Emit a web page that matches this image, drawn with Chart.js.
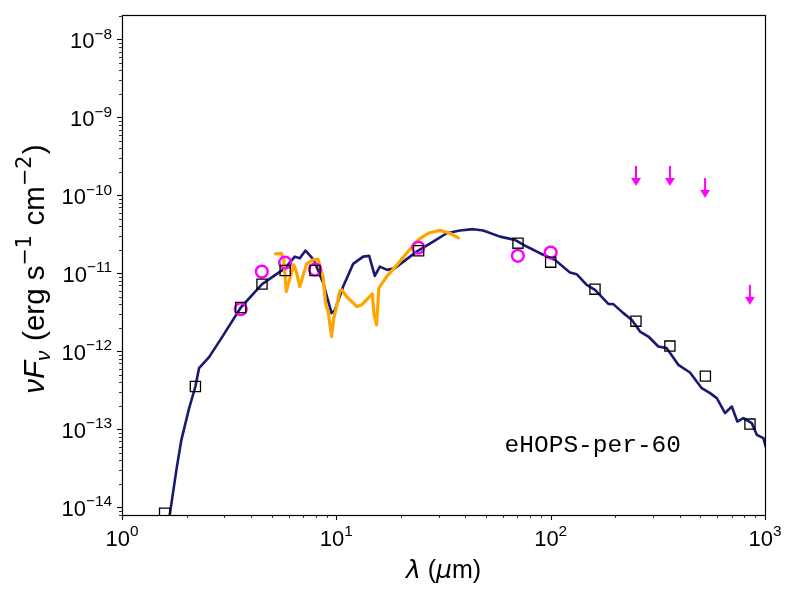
<!DOCTYPE html>
<html><head><meta charset="utf-8">
<script src="https://cdn.jsdelivr.net/npm/chart.js@4.4.1/dist/chart.umd.min.js"></script>
<style>html,body{margin:0;padding:0;background:#fff;}canvas{display:block;}</style>
</head><body>
<canvas id="c" width="800" height="600"></canvas>
<script>
// ---- data (wavelength in micron, nuFnu in erg/s/cm2) ----
const modelWave = [1.55,1.67,1.80,1.893,2.05,2.20,2.288,2.548,2.911,3.583,4.505,5.77,6.40,6.755,7.18,7.85,8.68,9.50,9.84,10.76,11.98,13.34,14.23,15.12,15.96,17.27,18.76,23.69,28.31,32.70,37.72,43.52,48.45,58.0,68.1,77.3,89.1,104.7,123.0,132.2,147.2,161.0,185.8,196.0,218.3,238.8,261.2,285.6,317.9,347.9,394.2,446.7,506.9,554.2,595.7,651.3,699.8,743.1,792.5,867.8,915.6,982.9,1011];
const modelFlux = [2.1e-15,8.0e-15,3.2e-14,7.33e-14,1.8e-13,3.54e-13,6.09e-13,8.43e-13,1.476e-12,3.65e-12,7.28e-12,1.167e-11,1.64e-11,1.567e-11,1.96e-11,1.49e-11,7.55e-12,3.09e-12,3.36e-12,6.78e-12,1.324e-11,1.64e-11,1.676e-11,9.29e-12,1.222e-11,1.109e-11,1.167e-11,1.90e-11,2.56e-11,3.27e-11,3.54e-11,3.69e-11,3.54e-11,2.96e-11,2.69e-11,2.21e-11,1.815e-11,1.49e-11,1.023e-11,9.77e-12,7.13e-12,6.14e-12,4.06e-12,4.03e-12,3.09e-12,2.54e-12,1.795e-12,1.549e-12,1.153e-12,1.099e-12,6.71e-13,5.35e-13,3.37e-13,2.91e-13,2.51e-13,1.614e-13,1.96e-13,1.259e-13,1.393e-13,1.2e-13,8.49e-14,7.7e-14,5.79e-14];
const specWave = [5.20,5.55,5.69,5.84,6.11,6.33,6.47,6.755,7.26,7.79,8.22,8.68,8.93,9.16,9.50,9.73,9.95,10.38,10.61,11.16,12.47,13.11,14.08,14.73,14.96,15.41,15.79,17.16,18.76,21.27,24.28,26.83,30.42,33.88,37.12];
const specFlux = [1.778e-11,1.80e-11,1.49e-11,5.85e-12,9.1e-12,1.285e-11,1.109e-11,6.78e-12,1.324e-11,1.49e-11,1.52e-11,8.75e-12,3.95e-12,3.21e-12,1.549e-12,2.69e-12,3.40e-12,5.97e-12,6.14e-12,5.05e-12,3.75e-12,3.95e-12,4.81e-12,5.46e-12,3.09e-12,2.19e-12,6.46e-12,9.1e-12,1.194e-11,1.815e-11,2.73e-11,3.27e-11,3.56e-11,3.27e-11,2.85e-11];
const obsWave = [3.58,4.49,5.77,7.95,24.1,70.3,100];
const obsFlux = [3.48e-12,1.054e-11,1.375e-11,1.12e-11,2.14e-11,1.68e-11,1.85e-11];
const synWave = [1.58,2.2,3.58,4.5,5.77,7.95,24.2,70.4,100,161,250,360,527,851];
const synFlux = [8.4e-15,3.54e-13,3.65e-12,7.28e-12,1.087e-11,1.09e-11,1.95e-11,2.44e-11,1.393e-11,6.27e-12,2.44e-12,1.167e-12,4.81e-13,1.167e-13];
const limWave = [250,360,525,850];
const limFlux = [2.39e-10,2.39e-10,1.68e-10,7.13e-12];
const xTickVals = [1,10,100,1000];
const xTickExp = ['0','1','2','3'];
const yTickVals = [1e-14,1e-13,1e-12,1e-11,1e-10,1e-9,1e-8];
const yTickExp = ['\u221214','\u221213','\u221212','\u221211','\u221210','\u22129','\u22128'];
const sourceName = 'eHOPS-per-60';

const xMin = 1, xMax = 1000, yMin = 7.96e-15, yMax = 2.06e-8;
const FONT = '"Liberation Sans", Arial, Helvetica, sans-serif';
const MATH = '"DejaVu Sans", sans-serif';
const FS = 22;     // tick labels
const XLFS = 25;   // x axis label
const YLFS = 29.5; // y axis label

function pts(xs, ys){ return xs.map((x,i)=>({x:x,y:ys[i]})); }

// arrow marker (upper limit): top of arrow at the data point
const arrow = document.createElement('canvas');
arrow.width = 14; arrow.height = 42;
(function(){
  const g = arrow.getContext('2d');
  g.strokeStyle = '#ff00ff'; g.fillStyle = '#ff00ff'; g.lineWidth = 2;
  g.beginPath(); g.moveTo(7,21); g.lineTo(7,35); g.stroke();
  g.beginPath(); g.moveTo(2,33); g.lineTo(12,33); g.lineTo(7,41); g.closePath(); g.fill();
})();

function setFont(ctx, r, fs){
  const size = (r.sup||r.sub) ? fs*0.7 : fs;
  ctx.font = (r.it?'italic ':'') + size + 'px ' + (r.m ? MATH : FONT);
}
function runsWidth(ctx, runs, fs){
  let w = 0;
  for (const r of runs){ setFont(ctx, r, fs); w += ctx.measureText(r.t).width + (r.gap||0)*fs; }
  return w;
}
function drawRuns(ctx, runs, x, y, fs){
  let cx = x;
  for (const r of runs){
    setFont(ctx, r, fs);
    const dy = r.sup ? -fs*0.45 : (r.sub ? fs*0.22 : 0);
    ctx.fillText(r.t, cx, y+dy);
    cx += ctx.measureText(r.t).width + (r.gap||0)*fs;
  }
}

const axesPlugin = {
  id: 'axesPlugin',
  afterDraw(chart){
    const ctx = chart.ctx, a = chart.chartArea;
    const xs = chart.scales.x, ys = chart.scales.y;
    ctx.save();
    ctx.strokeStyle = '#000'; ctx.fillStyle = '#000';
    // ticks
    for (let d = 0; d < 3; d++){
      for (let m = 1; m < 10; m++){
        const v = Math.pow(10,d)*m;
        const px = Math.round(xs.getPixelForValue(v))+0.5;
        const len = m===1 ? 5 : 3;
        ctx.lineWidth = m===1 ? 1.1 : 0.8;
        ctx.beginPath(); ctx.moveTo(px, a.bottom); ctx.lineTo(px, a.bottom+len); ctx.stroke();
      }
    }
    ctx.lineWidth = 1.1;
    {const px = Math.round(xs.getPixelForValue(1000))+0.5; ctx.beginPath(); ctx.moveTo(px,a.bottom); ctx.lineTo(px,a.bottom+5); ctx.stroke();}
    for (let d = -15; d < -7; d++){
      for (let m = 1; m < 10; m++){
        const v = m*Math.pow(10,d);
        if (v < yMin || v > yMax) continue;
        const py = Math.round(ys.getPixelForValue(v))+0.5;
        const len = m===1 ? 5 : 3;
        ctx.lineWidth = m===1 ? 1.1 : 0.8;
        ctx.beginPath(); ctx.moveTo(a.left, py); ctx.lineTo(a.left-len, py); ctx.stroke();
      }
    }
    // frame
    ctx.lineWidth = 1.2;
    ctx.strokeRect(Math.round(a.left)+0.5, Math.round(a.top)+0.5, Math.round(a.right-a.left), Math.round(a.bottom-a.top));
    // x tick labels
    ctx.textAlign = 'left'; ctx.textBaseline = 'alphabetic';
    xTickVals.forEach((v,i)=>{
      const runs = [{t:'10'},{t:xTickExp[i],sup:true}];
      const w = runsWidth(ctx, runs, FS);
      const px = xs.getPixelForValue(v);
      drawRuns(ctx, runs, px - w/2, a.bottom + 30.5, FS);
    });
    // y tick labels
    yTickVals.forEach((v,i)=>{
      const runs = [{t:'10'},{t:yTickExp[i],sup:true}];
      const w = runsWidth(ctx, runs, FS);
      const py = ys.getPixelForValue(v);
      drawRuns(ctx, runs, a.left - 10 - w, py + 9, FS);
    });
    // x label
    const xl = [{t:'\u03bb',it:true,m:true},{t:' ('},{t:'\u03bc',it:true,m:true},{t:'m)'}];
    const xw = runsWidth(ctx, xl, XLFS);
    drawRuns(ctx, xl, (a.left+a.right)/2 - xw/2, 578, XLFS);
    // y label
    const yl = [{t:'\u03bd',it:true},{t:'F',it:true},{t:'\u03bd',it:true,sub:true,gap:0.05},{t:' (erg s'},{t:'\u22121',sup:true,m:true,gap:0.05},{t:' cm'},{t:'\u22122',sup:true,m:true,gap:0.05},{t:')'}];
    const yw = runsWidth(ctx, yl, YLFS);
    ctx.save();
    ctx.translate(44, (a.top+a.bottom)/2 + 4);
    ctx.rotate(-Math.PI/2);
    drawRuns(ctx, yl, -yw/2, 0, YLFS);
    ctx.restore();
    // source name
    ctx.font = '24.5px "Liberation Mono", "DejaVu Sans Mono", monospace';
    ctx.fillText(sourceName, a.left + 0.595*(a.right-a.left), a.top + 0.874*(a.bottom-a.top));
    ctx.restore();
  }
};

new Chart(document.getElementById('c'), {
  type: 'scatter',
  data: {
    datasets: [
      {label:'upper limits', data: pts(limWave, limFlux), pointStyle: arrow, pointRadius: 5, showLine:false, clip: false},
      {label:'model photometry', data: pts(synWave, synFlux), pointStyle:'rect', pointRadius: 7.2, borderColor:'#000', borderWidth:1.3, backgroundColor:'rgba(0,0,0,0)', showLine:false, clip: 0},
      {label:'observed', data: pts(obsWave, obsFlux), pointStyle:'circle', pointRadius: 5.9, borderColor:'#ff00ff', borderWidth:2.5, backgroundColor:'rgba(0,0,0,0)', showLine:false, clip: 0},
      {label:'spectrum', data: pts(specWave, specFlux), showLine:true, borderColor:'#ffa500', borderWidth:3.2, pointRadius:0, tension:0, borderJoinStyle:'round', borderCapStyle:'round', clip: 0},
      {label:'model', data: pts(modelWave, modelFlux), showLine:true, borderColor:'#191970', borderWidth:2.6, pointRadius:0, tension:0, borderJoinStyle:'round', clip: 0}
    ]
  },
  options: {
    responsive: false,
    animation: false,
    devicePixelRatio: 1,
    layout: {padding: {left:122, top:15, right:35, bottom:85}},
    scales: {
      x: {type:'logarithmic', min:xMin, max:xMax, display:false},
      y: {type:'logarithmic', min:yMin, max:yMax, display:false}
    },
    plugins: {legend:{display:false}, tooltip:{enabled:false}},
    events: []
  },
  plugins: [axesPlugin]
});
</script>
</body></html>
